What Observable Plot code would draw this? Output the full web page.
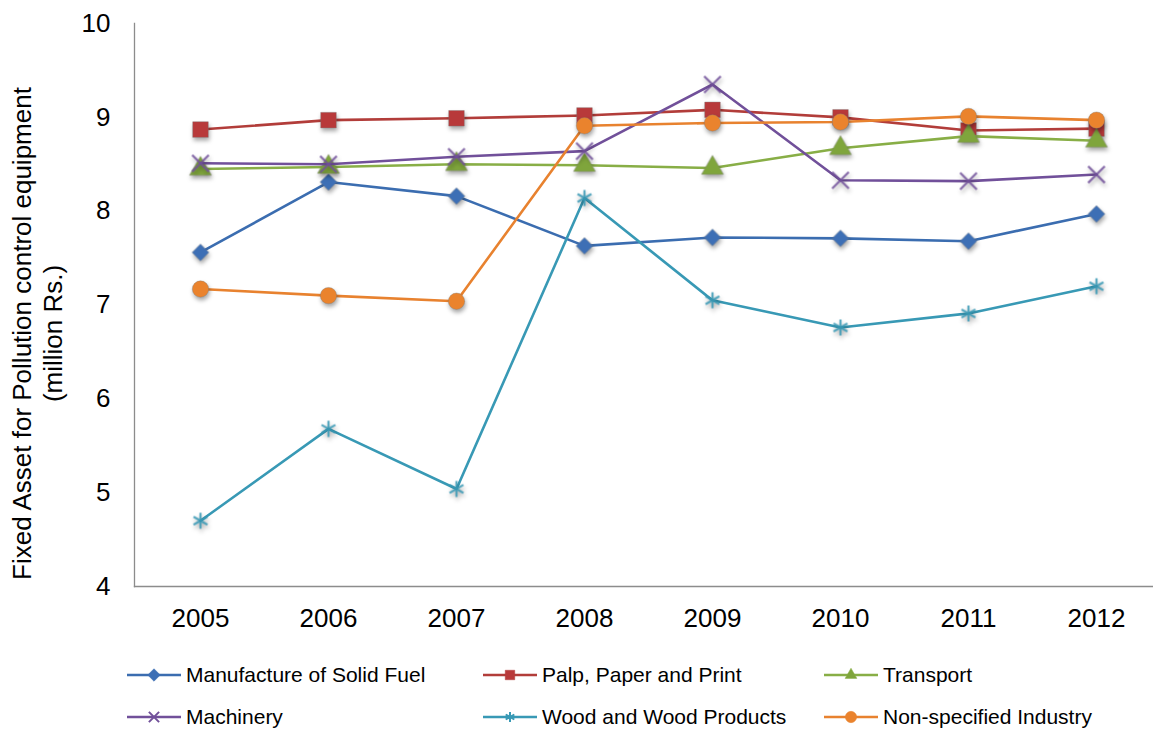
<!DOCTYPE html>
<html>
<head>
<meta charset="utf-8">
<script src="https://cdn.jsdelivr.net/npm/d3@7"></script>
<script src="https://cdn.jsdelivr.net/npm/@observablehq/plot@0.6"></script>
<style>
  body { margin: 0; background: #fff; font-family: "Liberation Sans", Arial, sans-serif; }
  #wrap { position: relative; width: 1153px; height: 729px; }
  .mk { filter: drop-shadow(1px 3px 2px rgba(0,0,0,0.35)); }
  .lg-item { position: absolute; height: 24px; display: flex; align-items: center; font-size: 21px; color: #000; white-space: nowrap; }
  .lg-item svg { margin-right: 3px; }
</style>
</head>
<body>
<div id="wrap"></div>
<script>
// Fixed asset for pollution control equipment by industry, 2005–2012 (million Rs.)
const years = ["2005", "2006", "2007", "2008", "2009", "2010", "2011", "2012"];
const yTicks = [4, 5, 6, 7, 8, 9, 10];

const seriesNames = [
  "Manufacture of Solid Fuel",
  "Palp, Paper and Print",
  "Transport",
  "Machinery",
  "Wood and Wood Products",
  "Non-specified Industry"
];

const solidFuel    = [7.56, 8.31, 8.16, 7.63, 7.72, 7.71, 7.68, 7.97];
const paper        = [8.87, 8.97, 8.99, 9.02, 9.08, 9.00, 8.86, 8.88];
const transport    = [8.45, 8.47, 8.50, 8.49, 8.46, 8.67, 8.80, 8.75];
const machinery    = [8.51, 8.50, 8.58, 8.64, 9.35, 8.33, 8.32, 8.39];
const wood         = [4.70, 5.68, 5.04, 8.14, 7.05, 6.76, 6.91, 7.20];
const nonSpecified = [7.17, 7.10, 7.04, 8.91, 8.94, 8.95, 9.01, 8.97];

const seriesValues = [solidFuel, paper, transport, machinery, wood, nonSpecified];
const lineColors   = ["#3b6db0", "#b23d3a", "#88ae46", "#71509a", "#3899b5", "#e8822f"];
const markerFills  = ["#3d6fb5", "#b8393a", "#7fa53c", "none", "none", "#ea832d"];
const symbols      = ["diamond2", "square", "triangle", "times", "asterisk", "circle"];
const d3Symbols    = [d3.symbolDiamond2, d3.symbolSquare, d3.symbolTriangle, d3.symbolTimes, d3.symbolAsterisk, d3.symbolCircle];
const markerR      = [7.6, 8.8, 8.2, 7.6, 7.6, 8.2];
const legendSize   = [100, 90, 60, 70, 70, 100];

const yTitle = "Fixed Asset for Pollution control equipment\n(million Rs.)";

// Long-format table built from the arrays above
const rows = seriesNames.flatMap((name, i) =>
  years.map((year, j) => ({series: name, idx: i, year, value: seriesValues[i][j]}))
);

const seriesMarks = seriesNames.flatMap((name, i) => {
  const data = rows.filter(d => d.idx === i);
  const stroked = markerFills[i] === "none";
  return [
    Plot.line(data, {x: "year", y: "value", stroke: lineColors[i], strokeWidth: 2.6}),
    Plot.dot(data, {
      x: "year", y: "value", symbol: symbols[i], r: markerR[i],
      fill: stroked ? "none" : markerFills[i],
      stroke: stroked ? lineColors[i] : "#7a7a7a",
      strokeWidth: stroked ? 2.2 : 0.6,
      strokeOpacity: stroked ? 0.85 : 0.6,
      className: "mk"
    })
  ];
});

const chart = Plot.plot({
  width: 1153,
  height: 640,
  marginLeft: 134,
  marginRight: 0,
  marginTop: 23,
  marginBottom: 54,
  style: {fontFamily: "'Liberation Sans', Arial, sans-serif", color: "#000", background: "#fff"},
  x: {type: "point", domain: years, range: [199, 1097], padding: 0},
  y: {domain: [4, 10]},
  marks: [
    Plot.axisY({ticks: yTicks, tickFormat: d3.format("d"), tickSize: 0, tickPadding: 24, fontSize: 26, label: null}),
    Plot.axisX({tickSize: 0, tickPadding: 22, fontSize: 26, label: null}),
    Plot.frame({anchor: "left", stroke: "#8c8c8c", strokeWidth: 1.3}),
    Plot.frame({anchor: "bottom", stroke: "#8c8c8c", strokeWidth: 1.3}),
    Plot.text([yTitle], {
      frameAnchor: "left", textAnchor: "middle", rotate: -90, dx: -98, dy: 28.5,
      fontSize: 26, lineHeight: 1.2, fill: "#000"
    }),
    ...seriesMarks
  ]
});

const wrap = document.getElementById("wrap");
wrap.appendChild(chart);

// Legend: two rows of three entries below the chart
const legendCols = [127, 483, 824];
const legendRowsY = [675, 717];
seriesNames.forEach((name, i) => {
  const col = i % 3, row = Math.floor(i / 3);
  const item = document.createElement("div");
  item.className = "lg-item";
  item.style.left = legendCols[col] + "px";
  item.style.top = (legendRowsY[row] - 12) + "px";
  const svg = d3.create("svg").attr("width", 56).attr("height", 24);
  svg.append("line").attr("x1", 0).attr("x2", 54).attr("y1", 12).attr("y2", 12)
    .attr("stroke", lineColors[i]).attr("stroke-width", 2.6);
  const stroked = markerFills[i] === "none";
  svg.append("path")
    .attr("transform", "translate(27,12)")
    .attr("d", d3.symbol(d3Symbols[i], legendSize[i])())
    .attr("fill", stroked ? "none" : markerFills[i])
    .attr("stroke", lineColors[i])
    .attr("stroke-width", stroked ? 2 : 0.5);
  item.appendChild(svg.node());
  const label = document.createElement("span");
  label.textContent = name;
  item.appendChild(label);
  wrap.appendChild(item);
});
</script>
</body>
</html>
